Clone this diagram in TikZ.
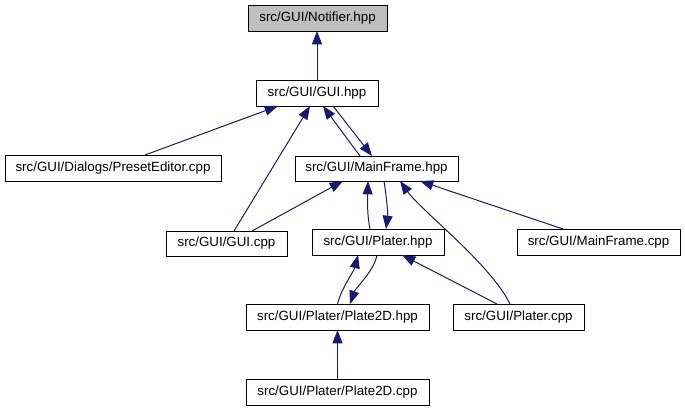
\documentclass[tikz,border=0pt]{standalone}
\usepackage{fontspec}
\setmainfont{Liberation Sans}
\usetikzlibrary{arrows.meta,calc}
\definecolor{edgeblue}{RGB}{25,25,112}
\definecolor{hlgray}{RGB}{191,191,191}
\tikzset{
  box/.style={draw=black, line width=0.75pt, fill=white, inner sep=0pt, outer sep=0pt,
    minimum height=19.5pt, font=\fontsize{10}{12}\selectfont},
  edge/.style={draw=edgeblue, line width=0.75pt, -{Triangle[length=10pt,width=7.5pt]}},
}
\begin{document}
\begin{tikzpicture}[x=0.75pt,y=-0.75pt]
\useasboundingbox (0,0) rectangle (685,411);
\node[box, fill=hlgray, minimum width=104.25pt] (notif) at (317.5,18) {src/GUI/Notifier.hpp};
\node[box, minimum width=91.5pt] (gui) at (317,93) {src/GUI/GUI.hpp};
\node[box, minimum width=162pt] (preset) at (113,168) {src/GUI/Dialogs/PresetEditor.cpp};
\node[box, minimum width=122.25pt, minimum height=18.75pt] (mf) at (376.5,168.5) {src/GUI/MainFrame.hpp};
\node[box, minimum width=90.75pt, minimum height=18.75pt] (guicpp) at (226.5,243.5) {src/GUI/GUI.cpp};
\node[box, minimum width=99pt] (plater) at (378,242) {src/GUI/Plater.hpp};
\node[box, minimum width=122.25pt] (mfcpp) at (598.5,242) {src/GUI/MainFrame.cpp};
\node[box, minimum width=137.25pt] (p2d) at (337.5,317) {src/GUI/Plater/Plate2D.hpp};
\node[box, minimum width=98.25pt] (platercpp) at (518.5,317) {src/GUI/Plater.cpp};
\node[box, minimum width=137.25pt] (p2dcpp) at (337.5,392) {src/GUI/Plater/Plate2D.cpp};

\draw[edge] (gui.north) -- (gui.north |- notif.south);
\draw[edge] ($(preset.north)+(32,0)$) -- ($(gui.south)+(-39,0)$);
\draw[edge] ($(guicpp.north)+(7.5,0)$) -- ($(gui.south)+(-7,0)$);
\draw[edge] ($(mf.north)+(-16.5,0)$) -- ($(gui.south)+(6,0)$);
\draw[edge] ($(gui.south)+(16,0)$) -- ($(mf.north)+(-4.5,0)$);
\draw[edge] ($(guicpp.north)+(25.5,0)$) -- ($(mf.south)+(-33.5,0)$);
\draw[edge] ($(plater.north)+(-8,0)$) .. controls ($(plater.north)+(-11,-14)$) and ($(mf.south)+(-9,18)$) .. ($(mf.south)+(-8.5,0)$);
\draw[edge] ($(mf.south)+(7.5,0)$) .. controls ($(mf.south)+(10,16)$) and ($(plater.north)+(10,-16)$) .. ($(plater.north)+(8,0)$);
\draw[edge] ($(platercpp.north)+(-8.5,0)$) .. controls ($(platercpp.north)+(-28,-40)$) and ($(mf.south)+(45,30)$) .. ($(mf.south)+(23.5,0)$);
\draw[edge] ($(mfcpp.north)+(-35.5,0)$) -- ($(mf.south)+(43.5,0)$);
\draw[edge] ($(p2d.north)+(0,0)$) .. controls ($(p2d.north)+(4,-16)$) and ($(plater.south)+(-24,16)$) .. ($(plater.south)+(-20,0)$);
\draw[edge] ($(plater.south)+(-1,0)$) .. controls ($(plater.south)+(-4,16)$) and ($(p2d.north)+(18,-16)$) .. ($(p2d.north)+(12.5,0)$);
\draw[edge] ($(platercpp.north)+(-21.5,0)$) -- ($(plater.south)+(24,0)$);
\draw[edge] (p2dcpp.north) -- (p2d.south);
\end{tikzpicture}
\end{document}
